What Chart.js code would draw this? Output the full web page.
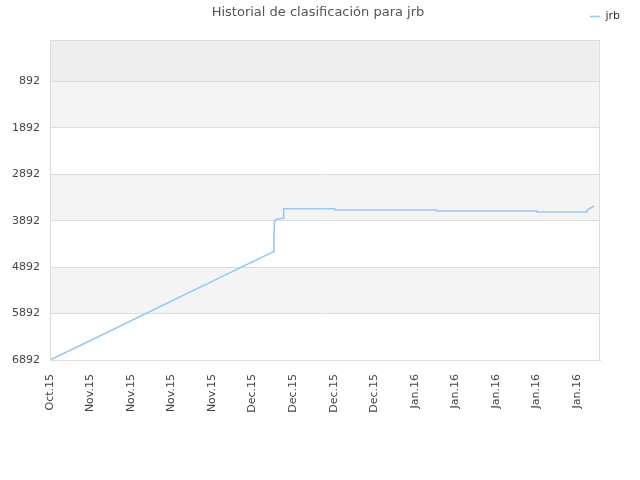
<!DOCTYPE html>
<html>
<head>
<meta charset="utf-8">
<script src="https://cdn.jsdelivr.net/npm/chart.js@4"></script>
<style>
  html, body { margin: 0; padding: 0; background: #fff; }
  #wrap { width: 640px; height: 480px; }
</style>
</head>
<body>
<div id="wrap"><canvas id="myChart" width="640" height="480"></canvas></div>
<script>
// valeurs
const tickLabels = ['Oct.15', 'Nov.15', 'Nov.15', 'Nov.15', 'Nov.15', 'Dec.15', 'Dec.15',
  'Dec.15', 'Dec.15', 'Jan.16', 'Jan.16', 'Jan.16', 'Jan.16', 'Jan.16'];
const tickDays = [0, 7, 14, 21, 28, 35, 42, 49, 56, 63, 70, 77, 84, 91];
const yTicks = [892, 1892, 2892, 3892, 4892, 5892, 6892];

const days  = [0, 7, 14, 21, 28, 35, 38.57, 38.69, 38.81, 39.16, 40.30, 40.35, 49.18, 49.23, 66.68, 66.7, 84.07, 84.1, 92.70, 92.75, 93.96];
const ranks = [6892, 6470, 6046, 5621, 5199, 4775, 4559, 4114, 3898, 3862, 3840, 3633, 3633, 3661, 3661, 3683, 3683, 3704, 3704, 3661, 3575];

const FONT = 'DejaVu Sans';

// bandes grises alternées + cadre
const bandsPlugin = {
  id: 'bands',
  beforeDraw(chart) {
    const { ctx, chartArea: a, scales: { y } } = chart;
    const bands = [[0, 892, '#eeeeee'], [892, 1892, '#f4f4f4'], [2892, 3892, '#f4f4f4'], [4892, 5892, '#f4f4f4']];
    ctx.save();
    bands.forEach(b => {
      const y1 = y.getPixelForValue(b[0]);
      const y2 = y.getPixelForValue(b[1]);
      ctx.fillStyle = b[2];
      ctx.fillRect(a.left, y1, a.right - a.left, y2 - y1);
    });
    ctx.restore();
  },
  afterDraw(chart) {
    const { ctx, chartArea: a } = chart;
    ctx.save();
    ctx.strokeStyle = '#dddddd';
    ctx.lineWidth = 1;
    ctx.strokeRect(a.left + 0.5, a.top + 0.5, a.right - a.left - 1, a.bottom - a.top);
    // titre
    ctx.fillStyle = '#555555';
    ctx.font = '13px "' + FONT + '"';
    ctx.textAlign = 'center';
    ctx.textBaseline = 'middle';
    ctx.fillText('Historial de clasificación para jrb', 318, 13);
    ctx.restore();
  }
};

const ctx = document.getElementById('myChart').getContext('2d');
new Chart(ctx, {
  type: 'line',
  data: {
    datasets: [{
      label: 'jrb',
      data: days.map((d, i) => ({ x: d, y: ranks[i] })),
      borderColor: '#9cc8f2',
      backgroundColor: '#9cc8f2',
      borderWidth: 1.6,
      pointRadius: 0,
      tension: 0,
      fill: false
    }]
  },
  options: {
    responsive: false,
    animation: false,
    layout: { padding: { top: 1, left: 0, right: 10, bottom: 0 } },
    plugins: {
      title: { display: false },
      tooltip: { enabled: false },
      legend: {
        position: 'top',
        align: 'end',
        labels: {
          usePointStyle: true,
          pointStyle: 'line',
          pointStyleWidth: 10,
          boxHeight: 2,
          color: '#333',
          font: { family: FONT, size: 11 },
          padding: 10
        }
      }
    },
    scales: {
      x: {
        type: 'linear',
        min: 0,
        max: 95,
        afterBuildTicks: axis => { axis.ticks = tickDays.map(v => ({ value: v })); },
        afterFit: s => { s.height = 120; },
        grid: { display: false },
        border: { color: '#dddddd' },
        ticks: {
          autoSkip: false,
          maxRotation: 90,
          minRotation: 90,
          padding: 6,
          color: '#444',
          font: { family: FONT, size: 11 },
          callback: (v, i) => tickLabels[i]
        }
      },
      xTop: {
        type: 'linear',
        position: 'top',
        display: true,
        afterFit: s => { s.height = 8; },
        grid: { display: false },
        border: { display: false },
        ticks: { display: false }
      },
      y: {
        reverse: true,
        min: 0,
        max: 6892,
        afterBuildTicks: axis => { axis.ticks = yTicks.map(v => ({ value: v })); },
        afterFit: s => { s.width = 50; },
        grid: { color: '#dddddd', drawTicks: false },
        border: { color: '#dddddd' },
        ticks: {
          padding: 10,
          color: '#444',
          font: { family: FONT, size: 11 },
          callback: v => String(v)
        }
      },
      yR: {
        position: 'right',
        display: true,
        afterFit: s => { s.width = 30; },
        grid: { display: false },
        border: { display: false },
        ticks: { display: false }
      }
    }
  },
  plugins: [bandsPlugin]
});
</script>
</body>
</html>
